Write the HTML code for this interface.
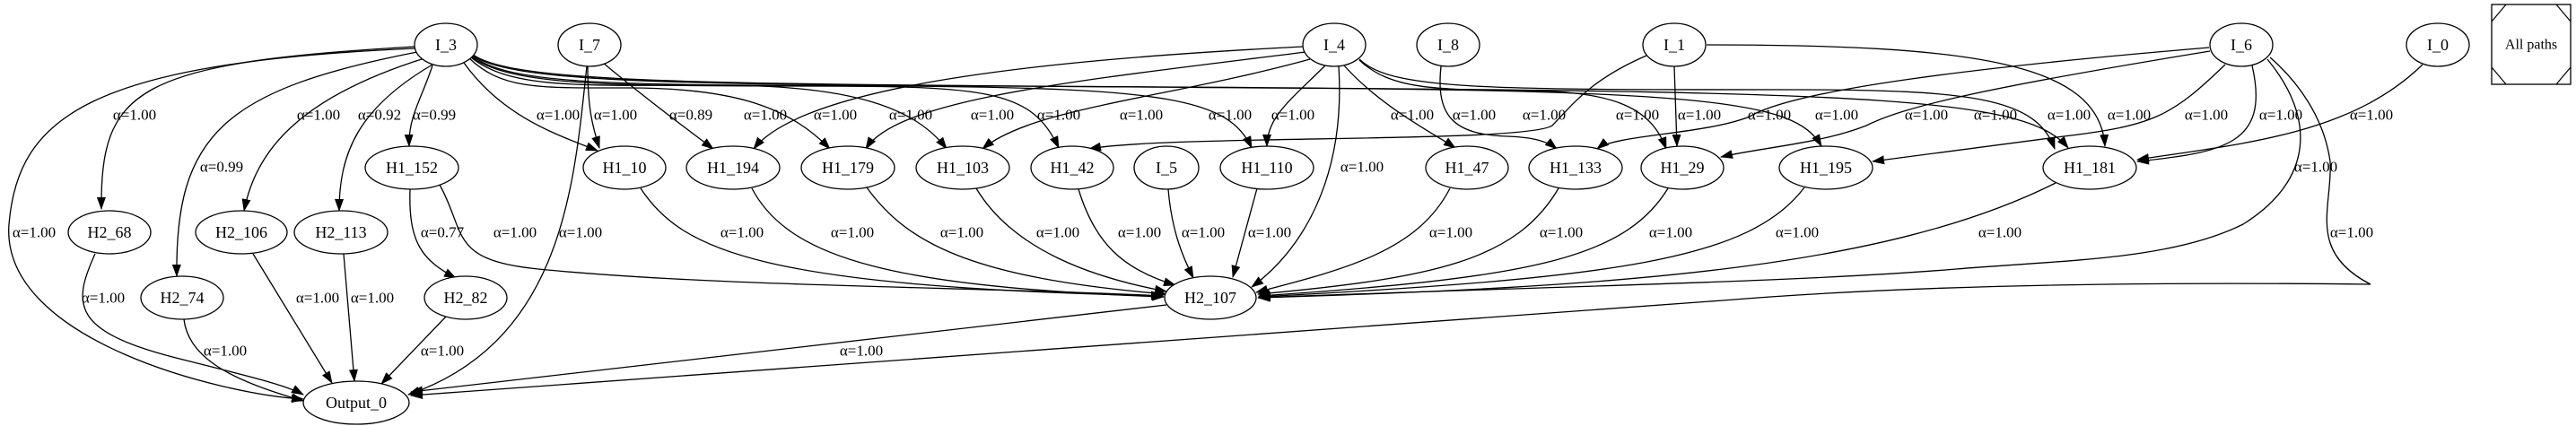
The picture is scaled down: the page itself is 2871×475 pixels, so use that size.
<!DOCTYPE html>
<html><head><meta charset="utf-8"><style>
html,body{margin:0;padding:0;background:#fff;}
svg{display:block;}
text{font-family:"Liberation Serif",serif;font-size:18px;fill:#000;}
.l{font-size:17px;}
</style></head><body>
<svg width="2871" height="475" viewBox="0 0 2871 475" xmlns="http://www.w3.org/2000/svg">
<defs><marker id="a" markerWidth="14" markerHeight="10" refX="13" refY="5" orient="auto" markerUnits="userSpaceOnUse"><path d="M0,0 L14,5 L0,10 Z" fill="#000"/></marker></defs>
<g fill="none" stroke="#000" stroke-width="1.3" marker-end="url(#a)">
<!-- I_3 -->
<path d="M462,52 C150,70 112,100 113,233"/>
<path d="M462,54 C100,70 20,130 10,250 C0,380 250,440 338,445"/>
<path d="M465,58 C250,100 195,150 197,308"/>
<path d="M473,65 C330,110 285,170 272,235"/>
<path d="M482,72 C400,120 378,170 378,235"/>
<path d="M482,73 C470,110 455,130 456,163"/>
<path d="M517,70 C560,130 620,150 666,168"/>
<path d="M523,65 C560,100 600,98 700,98 C820,98 880,120 925,166"/>
<path d="M525,64 C570,100 650,95 800,95 C950,95 1020,120 1055,166"/>
<path d="M525,63 C570,98 700,95 900,96 C1100,96 1150,100 1180,165"/>
<path d="M526,62 C570,97 700,94 1000,96 C1300,98 1370,110 1395,165"/>
<path d="M526,61 C570,96 800,94 1300,97 C1900,100 2000,110 2030,163"/>
<path d="M526,60 C570,95 800,93 1400,98 C2100,102 2260,110 2305,165"/>
<!-- I_7 -->
<path d="M655,74 C655,120 660,140 668,165"/>
<path d="M672,70 C720,110 760,140 795,166"/>
<path d="M654,74 C640,200 630,380 455,440"/>
<!-- I_4 -->
<path d="M1452,52 C1200,65 900,90 840,166"/>
<path d="M1455,58 C1200,90 1000,110 965,166"/>
<path d="M1460,66 C1300,110 1150,120 1095,166"/>
<path d="M1477,73 C1440,110 1412,130 1412,163"/>
<path d="M1492,74 C1500,200 1450,280 1395,320"/>
<path d="M1498,73 C1540,120 1600,150 1622,165"/>
<path d="M1515,67 C1550,100 1600,100 1700,101 C1800,102 1840,120 1857,166"/>
<path d="M1515,66 C1550,100 1650,100 2000,100 C2200,100 2270,110 2290,166"/>
<!-- I_8 -->
<path d="M1606,74 C1600,130 1620,150 1680,152 C1710,153 1725,158 1735,166"/>
<!-- I_1 -->
<path d="M1835,62 C1770,90 1750,120 1730,140 C1700,160 1300,150 1214,166"/>
<path d="M1866,74 L1869,163"/>
<path d="M1902,50 C2200,50 2340,70 2346,163"/>
<!-- I_6 -->
<path d="M2462,53 C2200,75 2000,100 1950,130 C1900,150 1800,150 1780,166"/>
<path d="M2463,57 C2200,100 2120,120 2080,140 C2030,160 1960,165 1918,175"/>
<path d="M2480,72 C2420,130 2400,140 2300,152 L2087,180"/>
<path d="M2510,73 C2530,160 2480,170 2382,180"/>
<path d="M2527,66 C2580,130 2580,200 2500,250 C2420,290 2300,290 2180,300 C2000,315 1700,320 1402,332"/>
<path d="M2530,64 C2560,90 2590,130 2597,180 C2600,230 2570,280 2642,317 Q2200,312 1920,335 L458,441"/>
<!-- I_0 -->
<path d="M2700,72 C2620,150 2500,160 2382,178"/>
<!-- to H2_107 -->
<path d="M490,206 C520,260 500,290 600,300 C800,320 1100,320 1296,330"/>
<path d="M714,210 C760,280 850,320 1296,330"/>
<path d="M838,210 C880,290 1000,320 1297,331"/>
<path d="M966,209 C1010,270 1080,310 1300,328"/>
<path d="M1088,210 C1130,280 1220,310 1300,325"/>
<path d="M1202,211 C1220,270 1250,300 1310,318"/>
<path d="M1302,211 C1306,260 1320,290 1330,310"/>
<path d="M1401,210 L1374,309"/>
<path d="M1616,210 C1580,280 1500,300 1400,326"/>
<path d="M1737,210 C1690,290 1600,310 1402,328"/>
<path d="M1859,210 C1810,290 1700,310 1403,330"/>
<path d="M2011,209 C1950,290 1800,310 1403,331"/>
<path d="M2291,204 C2100,300 1800,320 1403,332"/>
<path d="M457,211 C455,270 470,290 508,310"/>
<path d="M1300,340 L458,437"/>
<!-- to Output_0 -->
<path d="M106,283 C80,340 80,370 200,400 C280,420 320,430 338,440"/>
<path d="M205,356 C210,400 260,425 338,447"/>
<path d="M282,283 L370,427"/>
<path d="M383,283 L395,425"/>
<path d="M497,353 L425,428"/>
</g>
<g fill="#fff" stroke="#000" stroke-width="1.3">
<ellipse cx="497" cy="50" rx="35" ry="24"/>
<ellipse cx="657" cy="50" rx="35" ry="24"/>
<ellipse cx="1487" cy="50" rx="35" ry="24"/>
<ellipse cx="1614" cy="50" rx="35" ry="24"/>
<ellipse cx="1866" cy="50" rx="35" ry="24"/>
<ellipse cx="2498" cy="50" rx="35" ry="24"/>
<ellipse cx="2717" cy="50" rx="35" ry="24"/>
<ellipse cx="459" cy="187" rx="52" ry="24"/>
<ellipse cx="696" cy="187" rx="46" ry="24"/>
<ellipse cx="817" cy="187" rx="52" ry="24"/>
<ellipse cx="945" cy="187" rx="52" ry="24"/>
<ellipse cx="1073" cy="187" rx="52" ry="24"/>
<ellipse cx="1195" cy="187" rx="46" ry="24"/>
<ellipse cx="1300" cy="187" rx="36" ry="24"/>
<ellipse cx="1412" cy="187" rx="52" ry="24"/>
<ellipse cx="1635" cy="187" rx="46" ry="24"/>
<ellipse cx="1756" cy="187" rx="52" ry="24"/>
<ellipse cx="1875" cy="187" rx="46" ry="24"/>
<ellipse cx="2035" cy="187" rx="52" ry="24"/>
<ellipse cx="2329" cy="187" rx="52" ry="24"/>
<ellipse cx="122" cy="259" rx="46" ry="24"/>
<ellipse cx="269" cy="259" rx="51" ry="24"/>
<ellipse cx="380" cy="259" rx="52" ry="24"/>
<ellipse cx="203" cy="332" rx="46" ry="24"/>
<ellipse cx="519" cy="332" rx="46" ry="24"/>
<ellipse cx="1349" cy="332" rx="51" ry="24"/>
<ellipse cx="397" cy="449" rx="59" ry="24"/>
<rect x="2777" y="5" width="88" height="89"/>
</g>
<g stroke="#000" stroke-width="1.2">
<line x1="2777" y1="24" x2="2793" y2="5"/><line x1="2849" y1="5" x2="2865" y2="24"/>
<line x1="2777" y1="75" x2="2793" y2="94"/><line x1="2849" y1="94" x2="2865" y2="75"/>
</g>
<g text-anchor="middle" dominant-baseline="central">
<text x="497" y="50">I_3</text><text x="657" y="50">I_7</text><text x="1487" y="50">I_4</text>
<text x="1614" y="50">I_8</text><text x="1866" y="50">I_1</text><text x="2498" y="50">I_6</text>
<text x="2717" y="50">I_0</text>
<text x="459" y="187">H1_152</text><text x="696" y="187">H1_10</text><text x="817" y="187">H1_194</text>
<text x="945" y="187">H1_179</text><text x="1073" y="187">H1_103</text><text x="1195" y="187">H1_42</text>
<text x="1300" y="187">I_5</text><text x="1412" y="187">H1_110</text><text x="1635" y="187">H1_47</text>
<text x="1756" y="187">H1_133</text><text x="1875" y="187">H1_29</text><text x="2035" y="187">H1_195</text>
<text x="2329" y="187">H1_181</text>
<text x="122" y="259">H2_68</text><text x="269" y="259">H2_106</text><text x="380" y="259">H2_113</text>
<text x="203" y="332">H2_74</text><text x="519" y="332">H2_82</text><text x="1349" y="332">H2_107</text>
<text x="397" y="449">Output_0</text>
<text x="2821" y="50" style="font-size:16px">All paths</text>
</g>
<g class="l" text-anchor="middle" dominant-baseline="central">
<text class="l" x="150" y="128">α=1.00</text><text class="l" x="355" y="128">α=1.00</text>
<text class="l" x="423" y="128">α=0.92</text><text class="l" x="484" y="128">α=0.99</text>
<text class="l" x="622" y="128">α=1.00</text><text class="l" x="686" y="128">α=1.00</text>
<text class="l" x="770" y="128">α=0.89</text><text class="l" x="853" y="128">α=1.00</text>
<text class="l" x="931" y="128">α=1.00</text><text class="l" x="1015" y="128">α=1.00</text>
<text class="l" x="1106" y="128">α=1.00</text><text class="l" x="1180" y="128">α=1.00</text>
<text class="l" x="1272" y="128">α=1.00</text><text class="l" x="1371" y="128">α=1.00</text>
<text class="l" x="1441" y="128">α=1.00</text><text class="l" x="1574" y="128">α=1.00</text>
<text class="l" x="1643" y="128">α=1.00</text><text class="l" x="1721" y="128">α=1.00</text>
<text class="l" x="1825" y="128">α=1.00</text><text class="l" x="1894" y="128">α=1.00</text>
<text class="l" x="1972" y="128">α=1.00</text><text class="l" x="2047" y="128">α=1.00</text>
<text class="l" x="2147" y="128">α=1.00</text><text class="l" x="2224" y="128">α=1.00</text>
<text class="l" x="2306" y="128">α=1.00</text><text class="l" x="2373" y="128">α=1.00</text>
<text class="l" x="2459" y="128">α=1.00</text><text class="l" x="2542" y="128">α=1.00</text>
<text class="l" x="2643" y="128">α=1.00</text>
<text class="l" x="247" y="186">α=0.99</text><text class="l" x="1518" y="186">α=1.00</text>
<text class="l" x="2581" y="186">α=1.00</text>
<text class="l" x="38" y="259">α=1.00</text><text class="l" x="493" y="259">α=0.77</text>
<text class="l" x="574" y="259">α=1.00</text><text class="l" x="647" y="259">α=1.00</text>
<text class="l" x="827" y="259">α=1.00</text><text class="l" x="950" y="259">α=1.00</text>
<text class="l" x="1072" y="259">α=1.00</text><text class="l" x="1179" y="259">α=1.00</text>
<text class="l" x="1270" y="259">α=1.00</text><text class="l" x="1341" y="259">α=1.00</text>
<text class="l" x="1415" y="259">α=1.00</text><text class="l" x="1617" y="259">α=1.00</text>
<text class="l" x="1740" y="259">α=1.00</text><text class="l" x="1862" y="259">α=1.00</text>
<text class="l" x="2003" y="259">α=1.00</text><text class="l" x="2229" y="259">α=1.00</text>
<text class="l" x="2621" y="259">α=1.00</text>
<text class="l" x="115" y="332">α=1.00</text><text class="l" x="354" y="332">α=1.00</text>
<text class="l" x="415" y="332">α=1.00</text>
<text class="l" x="251" y="391">α=1.00</text><text class="l" x="493" y="391">α=1.00</text>
<text class="l" x="960" y="391">α=1.00</text>
</g>
</svg>
</body></html>
